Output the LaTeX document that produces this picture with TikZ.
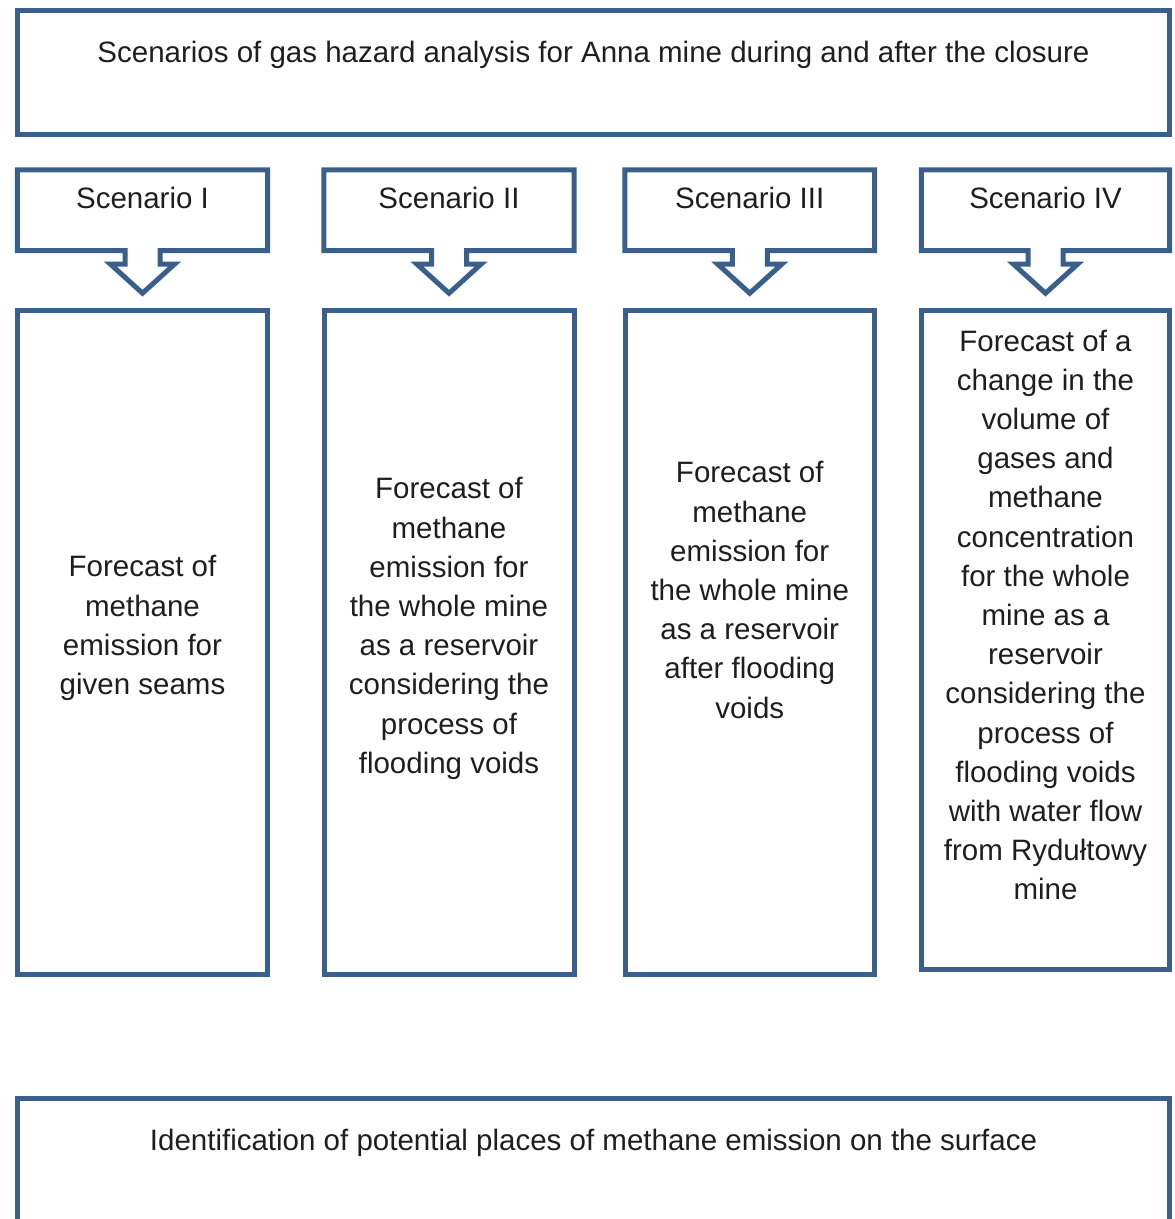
\documentclass[tikz,border=0pt]{standalone}
\usepackage{fontspec}
\setmainfont{Liberation Sans}
\usetikzlibrary{calc}
\definecolor{bord}{RGB}{58,95,139}
\definecolor{txt}{RGB}{30,30,30}
\tikzset{
  boxline/.style={draw=bord, line width=5pt, line join=miter},
  emptybox/.style={rectangle, inner sep=0pt, draw=none},
  lbl/.style={text=txt, font=\fontsize{29.5}{39.2}\selectfont, align=center, inner sep=0pt},
}
\begin{document}
\begin{tikzpicture}[x=1pt,y=-1pt]
\useasboundingbox (0,0) rectangle (1175,1219);
% title box
\node[emptybox, boxline, minimum width=1152pt, minimum height=124pt] (top) at (593.5,72.5) {};
\node[lbl, anchor=base] (toptxt) at (593.5,62) {Scenarios of gas hazard analysis for Anna mine during and after the closure};
% scenario boxes with block arrows
\foreach \i/\L/\R/\lab in {1/17.5/267.5/Scenario I, 2/324/574/Scenario II, 3/625/874.5/Scenario III, 4/921.5/1169.5/Scenario IV}{
  \pgfmathsetmacro\w{\R-\L}
  \pgfmathsetmacro\c{(\L+\R)/2}
  \node[emptybox, minimum width=\w pt, minimum height=80.5pt] (s\i) at (\c,210.25) {};
  \node[lbl, anchor=base] (st\i) at (\c,208) {\lab};
  \draw[boxline] (s\i.north west) -- (s\i.north east) -- (s\i.south east)
    -- ($(s\i.south)+(17.5,0)$) -- ($(s\i.south)+(17.5,13.5)$) -- ($(s\i.south)+(32,13.5)$)
    -- ($(s\i.south)+(0,42.5)$)
    -- ($(s\i.south)+(-32,13.5)$) -- ($(s\i.south)+(-17.5,13.5)$) -- ($(s\i.south)+(-17.5,0)$)
    -- (s\i.south west) -- cycle;
}
% forecast boxes
\node[emptybox, boxline, minimum width=250pt, minimum height=664pt] (f1) at (142.5,642.5) {};
\node[emptybox, boxline, minimum width=250pt, minimum height=664pt] (f2) at (449,642.5) {};
\node[emptybox, boxline, minimum width=249.5pt, minimum height=664pt] (f3) at (749.75,642.5) {};
\node[emptybox, boxline, minimum width=248pt, minimum height=659pt] (f4) at (1045.5,640) {};
\node[lbl] (ft1) at (142.5,628) {Forecast of\\methane\\emission for\\given seams};
\node[lbl] (ft2) at (449,628.5) {Forecast of\\methane\\emission for\\the whole mine\\as a reservoir\\considering the\\process of\\flooding voids};
\node[lbl] (ft3) at (749.75,590) {Forecast of\\methane\\emission for\\the whole mine\\as a reservoir\\after flooding\\voids};
\node[lbl] (ft4) at (1045.5,615) {Forecast of a\\change in the\\volume of\\gases and\\methane\\concentration\\for the whole\\mine as a\\reservoir\\considering the\\process of\\flooding voids\\with water flow\\from Rydułtowy\\mine};
% bottom box
\node[emptybox, boxline, minimum width=1152pt, minimum height=140pt] (bot) at (593.5,1168.5) {};
\node[lbl, anchor=base] (bottxt) at (593.5,1150) {Identification of potential places of methane emission on the surface};
\end{tikzpicture}
\end{document}
